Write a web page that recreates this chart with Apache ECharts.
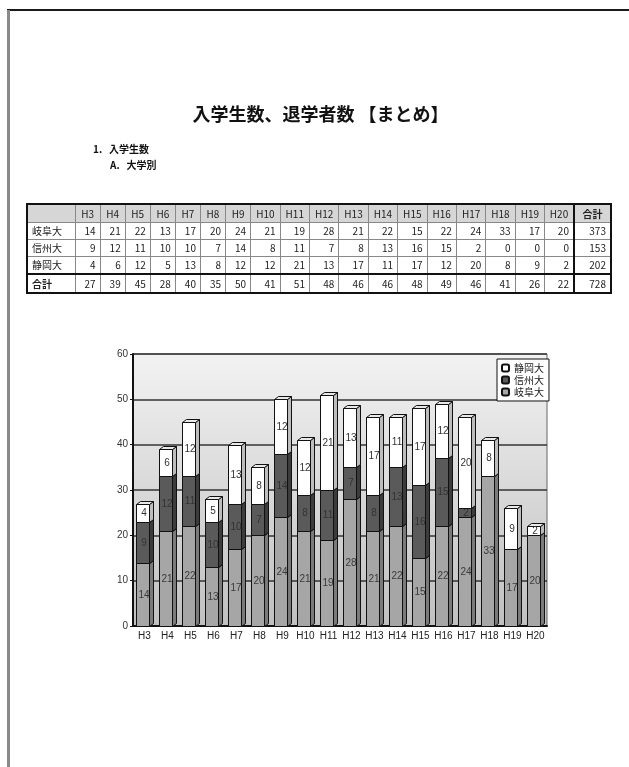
<!DOCTYPE html>
<html><head><meta charset="utf-8">
<script src="https://cdn.jsdelivr.net/npm/echarts/dist/echarts.min.js"></script>
<style>
html,body{margin:0;padding:0;background:#fff;}
body{width:629px;height:767px;position:relative;overflow:hidden;font-family:"Noto Sans CJK JP","Noto Sans",sans-serif;}
#c{position:absolute;left:0;top:0;width:629px;height:767px;}
.ov{position:absolute;z-index:2;}
#topline{left:7px;top:9px;width:622px;height:0;border-top:2px solid #1a1a1a;}
#leftline{left:7px;top:10px;width:0;height:757px;border-left:3px solid #8a8a8a;}
#title{left:0;width:629px;top:100px;text-align:center;font-size:18px;font-weight:bold;color:#111;padding-left:12px;box-sizing:border-box;}
#s1{left:93px;top:141px;font-size:10px;font-weight:bold;color:#111;}
#s2{left:110px;top:157px;font-size:10px;font-weight:bold;color:#111;}
#tbl{left:26px;top:203px;}
table{border-collapse:collapse;table-layout:fixed;border:2px solid #111;font-size:10px;color:#222;}
td{border:1px solid #888;padding:0 4px;height:16px;line-height:16px;text-align:right;overflow:hidden;white-space:nowrap;}
tr.hd td{background:#d6d6d6;text-align:center;height:17px;padding:0;}
td.rl{text-align:left;}
tr.tot td{border-top:2px solid #111;height:17px;}
td.tc{border-left:2px solid #111;}
td.b{font-weight:bold;}
</style>
</head><body>
<div id="c"></div>
<div class="ov" id="topline"></div>
<div class="ov" id="leftline"></div>
<div class="ov" id="title">入学生数、退学者数 【まとめ】</div>
<div class="ov" id="s1">1.&nbsp;&nbsp;&nbsp;入学生数</div>
<div class="ov" id="s2">A.&nbsp;&nbsp;&nbsp;大学別</div>
<div class="ov" id="tbl"></div>
<script>
const years = ['H3','H4','H5','H6','H7','H8','H9','H10','H11','H12','H13','H14','H15','H16','H17','H18','H19','H20'];
const univNames = ['岐阜大','信州大','静岡大'];
const gifu     = [14,21,22,13,17,20,24,21,19,28,21,22,15,22,24,33,17,20];
const shinshu  = [ 9,12,11,10,10, 7,14, 8,11, 7, 8,13,16,15, 2, 0, 0, 0];
const shizuoka = [ 4, 6,12, 5,13, 8,12,12,21,13,17,11,17,12,20, 8, 9, 2];
const yearTotals = [27,39,45,28,40,35,50,41,51,48,46,46,48,49,46,41,26,22];
const rowTotals  = [373,153,202];
const grandTotal = 728;
const totalLabel = '合計';
const yTicks = [0,10,20,30,40,50,60];

// ---- table ----
(function(){
  const widths = [48];
  years.forEach((y,i)=>widths.push(i<7?25.1:29.4));
  widths.push(37);
  let h = '<table><colgroup>' + widths.map(w=>'<col style="width:'+w+'px">').join('') + '</colgroup>';
  h += '<tr class="hd"><td></td>' + years.map(y=>'<td>'+y+'</td>').join('') + '<td class="tc b">'+totalLabel+'</td></tr>';
  const rows = [gifu, shinshu, shizuoka];
  rows.forEach((r,k)=>{
    h += '<tr><td class="rl">'+univNames[k]+'</td>' + r.map(v=>'<td>'+v+'</td>').join('') + '<td class="tc">'+rowTotals[k]+'</td></tr>';
  });
  h += '<tr class="tot"><td class="rl b">'+totalLabel+'</td>' + yearTotals.map(v=>'<td>'+v+'</td>').join('') + '<td class="tc">'+grandTotal+'</td></tr>';
  h += '</table>';
  document.getElementById('tbl').innerHTML = h;
})();

// ---- chart ----
const DX = 4, DY = 3, BW = 13;
function render3D(front, side, topc, labelColor){
  return function(params, api){
    const v = api.value(3);
    if (!v) return null;
    const i = api.value(0), b = api.value(1), t = api.value(2);
    const pb = api.coord([i, b]), pt = api.coord([i, t]);
    const x0 = Math.round(pb[0] - BW/2 - DX/2) + 0.5, x1 = x0 + BW;
    const yb = Math.round(pb[1]) + 0.5, yt = Math.round(pt[1]) + 0.5;
    return {type:'group', children:[
      {type:'polygon', shape:{points:[[x1,yb],[x1+DX,yb-DY],[x1+DX,yt-DY],[x1,yt]]}, style:{fill:side, stroke:'#111', lineWidth:1}},
      {type:'polygon', shape:{points:[[x0,yt],[x0+DX,yt-DY],[x1+DX,yt-DY],[x1,yt]]}, style:{fill:topc, stroke:'#111', lineWidth:1}},
      {type:'rect', shape:{x:x0, y:yt, width:BW, height:yb-yt}, style:{fill:front, stroke:'#111', lineWidth:1}},
      {type:'text', x:(x0+x1)/2+1, y:(yb+yt)/2, style:{text:String(v), fill:labelColor, fontSize:10, fontFamily:'Liberation Sans, Arial, sans-serif', align:'center', verticalAlign:'middle'}}
    ]};
  };
}
function stackData(vals, basesArr){
  return vals.map((v,i)=>[i, basesArr[i], basesArr[i]+v, v]);
}
const base0 = years.map(()=>0);
const base1 = gifu.slice();
const base2 = gifu.map((v,i)=>v + shinshu[i]);

const styles = {
  '岐阜大': {front:'#a6a6a6', side:'#7a7a7a', top:'#c4c4c4', label:'#3a3a3a'},
  '信州大': {front:'#5a5a5a', side:'#3c3c3c', top:'#6e6e6e', label:'#333333'},
  '静岡大': {front:'#ffffff', side:'#bdbdbd', top:'#e8e8e8', label:'#333333'}
};
const seriesDefs = [
  {name:'岐阜大', data: stackData(gifu, base0)},
  {name:'信州大', data: stackData(shinshu, base1)},
  {name:'静岡大', data: stackData(shizuoka, base2)}
];

const chart = echarts.init(document.getElementById('c'), null, {renderer:'canvas'});
chart.setOption({
  backgroundColor:'#ffffff',
  animation:false,
  textStyle:{fontFamily:'Liberation Sans, Arial, sans-serif'},
  legend:{
    data:['静岡大','信州大','岐阜大'],
    orient:'vertical', left:497, top:359,
    itemWidth:7, itemHeight:7, itemGap:2,
    padding:[4,5,4,4],
    backgroundColor:'#ffffff', borderColor:'#111', borderWidth:1,
    textStyle:{fontSize:10, color:'#222', fontFamily:'Noto Sans CJK JP'}
  },
  grid:{left:133, top:354, right:82, bottom:141, show:true,
    backgroundColor:{type:'linear', x:0, y:0, x2:0, y2:1, colorStops:[{offset:0,color:'#f2f2f2'},{offset:1,color:'#c0c0c0'}]},
    borderColor:'#666', borderWidth:1},
  xAxis:{type:'category', data:years,
    axisLine:{lineStyle:{color:'#111', width:2}},
    axisTick:{show:false},
    axisLabel:{fontSize:10, color:'#222', margin:5, interval:0}},
  yAxis:{type:'value', min:0, max:60, interval:10,
    axisLine:{show:true, lineStyle:{color:'#111', width:2}},
    axisTick:{show:true, length:3, lineStyle:{color:'#111'}},
    axisLabel:{fontSize:10, color:'#333', margin:5, formatter:(v)=>yTicks.includes(v)?String(v):''},
    splitLine:{lineStyle:{color:'#333', width:1.5}}},
  series: seriesDefs.map(s=>({
    type:'custom', name:s.name,
    itemStyle:{color:styles[s.name].front, borderColor:'#111', borderWidth:1},
    encode:{x:0, y:2},
    renderItem: render3D(styles[s.name].front, styles[s.name].side, styles[s.name].top, styles[s.name].label),
    data: s.data
  }))
});
</script>
</body></html>
